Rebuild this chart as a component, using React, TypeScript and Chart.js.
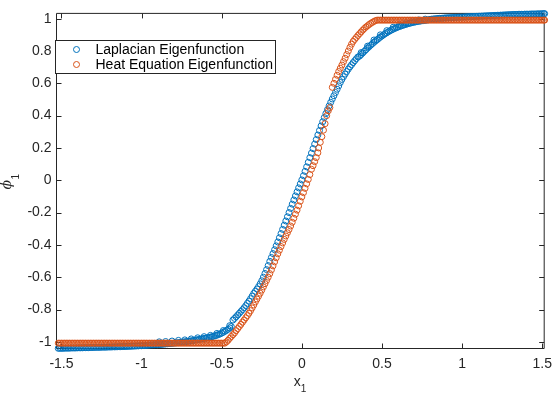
import React, { useEffect, useRef } from 'react';
import { Chart, registerables } from 'chart.js';

Chart.register(...registerables);

const seriesNames = ['Laplacian Eigenfunction', 'Heat Equation Eigenfunction'];
const seriesColors = ['#0072BD', '#D95319'];

const xTicks = [-1.5, -1, -0.5, 0, 0.5, 1, 1.5];
const xTickLabels = ['-1.5', '-1', '-0.5', '0', '0.5', '1', '1.5'];
const yTicks = [-1, -0.8, -0.6, -0.4, -0.2, 0, 0.2, 0.4, 0.6, 0.8, 1];
const yTickLabels = ['-1', '-0.8', '-0.6', '-0.4', '-0.2', '0', '0.2', '0.4', '0.6', '0.8', '1'];
const xLimits = [-1.5309, 1.5123];
const yLimits = [-1.0412, 1.0326];

// ---- Laplacian eigenfunction (blue) ----
const lapTailLeft: [number, number][] = [
  [-1.52, -1.04], [-1.51, -1.04], [-1.5, -1.04], [-1.49, -1.04], [-1.48, -1.039], [-1.47, -1.039],
  [-1.46, -1.039], [-1.45, -1.039], [-1.44, -1.038], [-1.43, -1.038], [-1.42, -1.038], [-1.41, -1.038],
  [-1.4, -1.037], [-1.39, -1.037], [-1.38, -1.037], [-1.37, -1.037], [-1.36, -1.036], [-1.35, -1.036],
  [-1.34, -1.036], [-1.33, -1.036], [-1.32, -1.035], [-1.31, -1.035], [-1.3, -1.035], [-1.29, -1.034],
  [-1.28, -1.034], [-1.27, -1.034], [-1.26, -1.034], [-1.25, -1.033], [-1.24, -1.033], [-1.23, -1.033],
  [-1.22, -1.033], [-1.21, -1.032], [-1.2, -1.032], [-1.19, -1.032], [-1.18, -1.031], [-1.17, -1.031],
  [-1.16, -1.031], [-1.15, -1.03], [-1.14, -1.03], [-1.13, -1.03], [-1.12, -1.029], [-1.11, -1.029],
  [-1.1, -1.029], [-1.09, -1.028], [-1.08, -1.028], [-1.07, -1.027], [-1.06, -1.027], [-1.05, -1.026],
  [-1.04, -1.026], [-1.03, -1.025], [-1.02, -1.025], [-1.01, -1.024], [-1.0, -1.024], [-0.99, -1.023],
  [-0.98, -1.023], [-0.97, -1.022], [-0.96, -1.021], [-0.95, -1.02], [-0.94, -1.019], [-0.93, -1.019],
  [-0.92, -1.018], [-0.91, -1.018],
];
const lapKneeLowRowA: [number, number][] = [
  [-0.9, -1.018], [-0.89, -1.017], [-0.88, -1.016], [-0.87, -1.015], [-0.86, -1.014], [-0.85, -1.013],
  [-0.84, -1.012], [-0.83, -1.011], [-0.82, -1.01], [-0.81, -1.009], [-0.8, -1.008], [-0.79, -1.007],
  [-0.78, -1.006], [-0.77, -1.005], [-0.76, -1.004], [-0.75, -1.003], [-0.74, -1.001], [-0.73, -1.0],
  [-0.72, -0.998], [-0.71, -0.997], [-0.7, -0.995], [-0.69, -0.994], [-0.68, -0.992], [-0.67, -0.99],
  [-0.66, -0.988], [-0.65, -0.987], [-0.64, -0.985], [-0.63, -0.983], [-0.62, -0.981], [-0.61, -0.979],
  [-0.6, -0.977], [-0.59, -0.975], [-0.58, -0.973], [-0.57, -0.971], [-0.56, -0.968], [-0.55, -0.965],
  [-0.54, -0.962], [-0.53, -0.959], [-0.52, -0.955], [-0.51, -0.951], [-0.5, -0.946], [-0.49, -0.941],
  [-0.48, -0.935], [-0.47, -0.929], [-0.46, -0.922], [-0.45, -0.914], [-0.44, -0.905],
];
const lapKneeLowRowB: [number, number][] = [
  [-0.89, -1.0], [-0.85, -0.998], [-0.81, -0.995], [-0.77, -0.991], [-0.73, -0.988], [-0.69, -0.982],
  [-0.65, -0.975], [-0.61, -0.968], [-0.57, -0.96], [-0.53, -0.948], [-0.49, -0.93], [-0.45, -0.9],
];
const lapMiddle: [number, number][] = [
  [-0.43, -0.865], [-0.42, -0.855], [-0.41, -0.845], [-0.4, -0.834], [-0.39, -0.823], [-0.38, -0.812],
  [-0.37, -0.801], [-0.36, -0.789], [-0.35, -0.776], [-0.34, -0.762], [-0.33, -0.748], [-0.32, -0.733],
  [-0.31, -0.717], [-0.3, -0.7], [-0.29, -0.687], [-0.28, -0.673], [-0.27, -0.658], [-0.26, -0.641],
  [-0.25, -0.622], [-0.24, -0.6], [-0.23, -0.577], [-0.22, -0.553], [-0.21, -0.528], [-0.2, -0.502],
  [-0.19, -0.478], [-0.18, -0.454], [-0.17, -0.43], [-0.16, -0.406], [-0.15, -0.382], [-0.14, -0.356],
  [-0.13, -0.33], [-0.12, -0.304], [-0.11, -0.278], [-0.1, -0.252], [-0.09, -0.226], [-0.08, -0.2],
  [-0.07, -0.174], [-0.06, -0.148], [-0.05, -0.122], [-0.04, -0.097], [-0.03, -0.072], [-0.02, -0.047],
  [-0.01, -0.023], [0.0, 0.002], [0.01, 0.028], [0.02, 0.055], [0.03, 0.083], [0.04, 0.111],
  [0.05, 0.14], [0.06, 0.168], [0.07, 0.196], [0.08, 0.224], [0.09, 0.252], [0.1, 0.28],
  [0.11, 0.308], [0.12, 0.336], [0.13, 0.362], [0.14, 0.388], [0.15, 0.413], [0.16, 0.437],
  [0.17, 0.46], [0.18, 0.482], [0.19, 0.503], [0.2, 0.523], [0.21, 0.543], [0.22, 0.563],
  [0.23, 0.584], [0.24, 0.605], [0.25, 0.624], [0.26, 0.641], [0.27, 0.657], [0.28, 0.673],
  [0.29, 0.688], [0.3, 0.702], [0.31, 0.715], [0.32, 0.728], [0.33, 0.74], [0.34, 0.752], [0.35, 0.763],
];
const lapKneeHighRowA: [number, number][] = [
  [0.36, 0.768], [0.37, 0.778], [0.38, 0.788], [0.39, 0.798], [0.4, 0.808], [0.41, 0.818],
  [0.42, 0.827], [0.43, 0.836], [0.44, 0.845], [0.45, 0.854], [0.46, 0.862], [0.47, 0.87],
  [0.48, 0.878], [0.49, 0.886], [0.5, 0.893], [0.51, 0.9], [0.52, 0.907], [0.53, 0.913],
  [0.54, 0.919], [0.55, 0.925], [0.56, 0.93], [0.57, 0.935], [0.58, 0.94], [0.59, 0.944],
  [0.6, 0.948], [0.61, 0.952], [0.62, 0.955], [0.63, 0.959], [0.64, 0.962], [0.65, 0.965],
  [0.66, 0.968], [0.67, 0.971], [0.68, 0.973], [0.69, 0.976], [0.7, 0.978], [0.71, 0.98],
  [0.72, 0.982], [0.73, 0.984], [0.74, 0.985], [0.75, 0.987], [0.76, 0.988], [0.77, 0.99],
  [0.78, 0.991], [0.79, 0.993],
];
const lapKneeHighRowB: [number, number][] = [
  [0.37, 0.79], [0.41, 0.83], [0.45, 0.868], [0.49, 0.9], [0.53, 0.926], [0.57, 0.947],
  [0.61, 0.963], [0.65, 0.975], [0.69, 0.985], [0.73, 0.992], [0.77, 0.997],
];
const lapTailRight: [number, number][] = [
  [0.8, 0.996], [0.81, 0.997], [0.82, 0.998], [0.83, 0.999], [0.84, 1.0], [0.85, 1.001],
  [0.86, 1.002], [0.87, 1.002], [0.88, 1.003], [0.89, 1.004], [0.9, 1.005], [0.91, 1.005],
  [0.92, 1.006], [0.93, 1.006], [0.94, 1.007], [0.95, 1.007], [0.96, 1.008], [0.97, 1.008],
  [0.98, 1.009], [0.99, 1.009], [1.0, 1.01], [1.01, 1.01], [1.02, 1.011], [1.03, 1.011],
  [1.04, 1.012], [1.05, 1.012], [1.06, 1.013], [1.07, 1.013], [1.08, 1.014], [1.09, 1.014],
  [1.1, 1.015], [1.11, 1.015], [1.12, 1.016], [1.13, 1.016], [1.14, 1.017], [1.15, 1.017],
  [1.16, 1.018], [1.17, 1.018], [1.18, 1.019], [1.19, 1.019], [1.2, 1.02], [1.21, 1.02],
  [1.22, 1.021], [1.23, 1.021], [1.24, 1.022], [1.25, 1.022], [1.26, 1.023], [1.27, 1.023],
  [1.28, 1.024], [1.29, 1.024], [1.3, 1.025], [1.31, 1.025], [1.32, 1.026], [1.33, 1.026],
  [1.34, 1.026], [1.35, 1.027], [1.36, 1.027], [1.37, 1.027], [1.38, 1.027], [1.39, 1.028],
  [1.4, 1.028], [1.41, 1.028], [1.42, 1.028], [1.43, 1.029], [1.44, 1.029], [1.45, 1.029],
  [1.46, 1.029], [1.47, 1.03], [1.48, 1.03], [1.49, 1.03], [1.5, 1.031], [1.51, 1.031], [1.515, 1.031],
];

// ---- Heat equation eigenfunction (orange) ----
const heatLowLevel = -1.008;
const heatLowX = [
  -1.52, -1.51, -1.5, -1.49, -1.48, -1.47, -1.46, -1.45, -1.44, -1.43, -1.42, -1.41, -1.4, -1.39, -1.38,
  -1.37, -1.36, -1.35, -1.34, -1.33, -1.32, -1.31, -1.3, -1.29, -1.28, -1.27, -1.26, -1.25, -1.24, -1.23,
  -1.22, -1.21, -1.2, -1.19, -1.18, -1.17, -1.16, -1.15, -1.14, -1.13, -1.12, -1.11, -1.1, -1.09, -1.08,
  -1.07, -1.06, -1.05, -1.04, -1.03, -1.02, -1.01, -1.0, -0.99, -0.98, -0.97, -0.96, -0.95, -0.94, -0.93,
  -0.92, -0.91, -0.9, -0.89, -0.88, -0.87, -0.86, -0.85, -0.84, -0.83, -0.82, -0.81, -0.8, -0.79, -0.78,
  -0.77, -0.76, -0.75, -0.74, -0.73, -0.72, -0.71, -0.7, -0.69, -0.68, -0.67, -0.66, -0.65, -0.64, -0.63,
  -0.62, -0.61, -0.6, -0.59, -0.58, -0.57, -0.56, -0.55, -0.54, -0.53, -0.52, -0.51, -0.5, -0.49, -0.48,
];
const heatRise: [number, number][] = [
  [-0.47, -1.0], [-0.46, -0.99], [-0.45, -0.978], [-0.44, -0.967], [-0.43, -0.956], [-0.42, -0.945],
  [-0.41, -0.931], [-0.4, -0.918], [-0.39, -0.905], [-0.38, -0.892], [-0.37, -0.878], [-0.36, -0.865],
  [-0.35, -0.851], [-0.34, -0.838], [-0.33, -0.823], [-0.32, -0.807], [-0.31, -0.79], [-0.3, -0.772],
  [-0.29, -0.753], [-0.28, -0.735], [-0.27, -0.717], [-0.26, -0.699], [-0.25, -0.68], [-0.24, -0.66],
  [-0.23, -0.64], [-0.22, -0.62], [-0.21, -0.6], [-0.2, -0.578], [-0.19, -0.555], [-0.18, -0.53],
  [-0.17, -0.505], [-0.16, -0.48], [-0.15, -0.455], [-0.14, -0.433], [-0.13, -0.41], [-0.12, -0.388],
  [-0.11, -0.366], [-0.1, -0.345], [-0.09, -0.325], [-0.08, -0.305], [-0.07, -0.283], [-0.06, -0.26],
  [-0.05, -0.235], [-0.04, -0.21], [-0.03, -0.185], [-0.02, -0.158], [-0.01, -0.13], [0.0, -0.103],
  [0.01, -0.077], [0.02, -0.05], [0.03, -0.022], [0.04, 0.005], [0.05, 0.035], [0.06, 0.068],
  [0.07, 0.09], [0.08, 0.115], [0.09, 0.14], [0.1, 0.17], [0.105, 0.2], [0.115, 0.235],
  [0.125, 0.27], [0.135, 0.31], [0.145, 0.35], [0.155, 0.4], [0.165, 0.43], [0.175, 0.45],
  [0.19, 0.575], [0.2, 0.6], [0.21, 0.625], [0.22, 0.65], [0.23, 0.673], [0.24, 0.693],
  [0.25, 0.713], [0.26, 0.734], [0.27, 0.755], [0.28, 0.778], [0.29, 0.8], [0.3, 0.822],
  [0.31, 0.842], [0.32, 0.859], [0.33, 0.872], [0.34, 0.884], [0.35, 0.896], [0.36, 0.907],
  [0.37, 0.918], [0.38, 0.929], [0.39, 0.939], [0.4, 0.948], [0.41, 0.956], [0.42, 0.964],
  [0.43, 0.971], [0.44, 0.977], [0.45, 0.983], [0.46, 0.988], [0.47, 0.991],
];
const heatHighLevel = 0.991;
const heatHighX = [
  0.48, 0.49, 0.5, 0.51, 0.52, 0.53, 0.54, 0.55, 0.56, 0.57, 0.58, 0.59, 0.6, 0.61, 0.62, 0.63, 0.64,
  0.65, 0.66, 0.67, 0.68, 0.69, 0.7, 0.71, 0.72, 0.73, 0.74, 0.75, 0.76, 0.77, 0.78, 0.79, 0.8, 0.81,
  0.82, 0.83, 0.84, 0.85, 0.86, 0.87, 0.88, 0.89, 0.9, 0.91, 0.92, 0.93, 0.94, 0.95, 0.96, 0.97, 0.98,
  0.99, 1.0, 1.01, 1.02, 1.03, 1.04, 1.05, 1.06, 1.07, 1.08, 1.09, 1.1, 1.11, 1.12, 1.13, 1.14, 1.15,
  1.16, 1.17, 1.18, 1.19, 1.2, 1.21, 1.22, 1.23, 1.24, 1.25, 1.26, 1.27, 1.28, 1.29, 1.3, 1.31, 1.32,
  1.33, 1.34, 1.35, 1.36, 1.37, 1.38, 1.39, 1.4, 1.41, 1.42, 1.43, 1.44, 1.45, 1.46, 1.47, 1.48, 1.49,
  1.5, 1.51, 1.515,
];

const FONT = '"Liberation Sans", Arial, Helvetica, sans-serif';
const AXIS_COLOR = '#262626';

const toPts = (arrs: [number, number][][]) => arrs.flat().map(([x, y]) => ({ x, y }));
const levelPts = (xs: number[], level: number): [number, number][] => xs.map((x) => [x, level]);

const framePlugin = {
  id: 'matlabFrame',
  beforeDatasetsDraw(chart: any) {
    const { ctx, chartArea: a, scales } = chart;
    ctx.save();
    ctx.strokeStyle = AXIS_COLOR;
    ctx.lineWidth = 1;
    ctx.beginPath();
    ctx.rect(a.left, a.top, a.right - a.left, a.bottom - a.top);
    const tl = 5;
    for (const v of xTicks) {
      const px = Math.round(scales.x.getPixelForValue(v)) + 0.5;
      ctx.moveTo(px, a.bottom); ctx.lineTo(px, a.bottom - tl);
      ctx.moveTo(px, a.top); ctx.lineTo(px, a.top + tl);
    }
    for (const v of yTicks) {
      const py = Math.round(scales.y.getPixelForValue(v)) + 0.5;
      ctx.moveTo(a.left, py); ctx.lineTo(a.left + tl, py);
      ctx.moveTo(a.right, py); ctx.lineTo(a.right - tl, py);
    }
    ctx.stroke();
    ctx.restore();
  },
  afterDraw(chart: any) {
    const { ctx, chartArea: a } = chart;
    ctx.save();
    ctx.fillStyle = AXIS_COLOR;
    ctx.textAlign = 'left';
    ctx.textBaseline = 'alphabetic';
    const cx = (a.left + a.right) / 2;
    ctx.font = `14px ${FONT}`;
    ctx.fillText('x', cx - 6.5, 386);
    const xw = ctx.measureText('x').width;
    ctx.font = `10px ${FONT}`;
    ctx.fillText('1', cx - 6.5 + xw, 391.5);

    ctx.save();
    ctx.translate(11, 189.5);
    ctx.rotate(-Math.PI / 2);
    ctx.font = `italic 14px "DejaVu Serif", serif`;
    ctx.fillText('ϕ', 0, 0);
    const pw = ctx.measureText('ϕ').width;
    ctx.font = `10px ${FONT}`;
    ctx.fillText('1', pw + 0.5, 7.5);
    ctx.restore();

    // legend
    ctx.fillStyle = '#ffffff';
    ctx.fillRect(55.5, 40.5, 220, 33);
    ctx.strokeStyle = AXIS_COLOR;
    ctx.lineWidth = 1;
    ctx.strokeRect(55.5, 40.5, 220, 33);
    const rows = [49.5, 64.5];
    chart.data.datasets.forEach((ds: any, i: number) => {
      ctx.beginPath();
      ctx.strokeStyle = ds.borderColor;
      ctx.lineWidth = 1;
      ctx.arc(76.5, rows[i], 3, 0, Math.PI * 2);
      ctx.stroke();
      ctx.fillStyle = '#000000';
      ctx.font = `14px ${FONT}`;
      ctx.fillText(ds.label, 95.5, rows[i] + 4.5);
    });
    ctx.restore();
  },
};

export default function App() {
  const ref = useRef<HTMLCanvasElement | null>(null);
  useEffect(() => {
    if (!ref.current) return;
    const chart = new Chart(ref.current, {
      type: 'scatter',
      data: {
        datasets: [
          {
            label: seriesNames[0],
            data: toPts([lapTailLeft, lapKneeLowRowA, lapKneeLowRowB, lapMiddle, lapKneeHighRowA, lapKneeHighRowB, lapTailRight]),
            borderColor: seriesColors[0],
            backgroundColor: 'rgba(0,0,0,0)',
            pointRadius: 3,
            pointBorderWidth: 1,
            clip: false as any,
            order: 2,
          },
          {
            label: seriesNames[1],
            data: toPts([levelPts(heatLowX, heatLowLevel), heatRise, levelPts(heatHighX, heatHighLevel)]),
            borderColor: seriesColors[1],
            backgroundColor: 'rgba(0,0,0,0)',
            pointRadius: 3,
            pointBorderWidth: 1,
            clip: false as any,
            order: 1,
          },
        ],
      },
      options: {
        animation: false,
        responsive: false,
        devicePixelRatio: 1,
        events: [],
        layout: { padding: { left: 0, top: 11.5, right: 9.5, bottom: 0 } },
        plugins: { legend: { display: false }, tooltip: { enabled: false } },
        scales: {
          x: {
            type: 'linear',
            min: xLimits[0],
            max: xLimits[1],
            grid: { display: false, drawTicks: false },
            border: { display: false },
            afterFit: (s: any) => { s.height = 46.5; },
            afterBuildTicks: (s: any) => { s.ticks = xTicks.map((v) => ({ value: v })); },
            ticks: {
              autoSkip: false,
              maxRotation: 0,
              padding: 7,
              color: AXIS_COLOR,
              font: { family: FONT, size: 14 },
              callback: (_v: any, i: number) => xTickLabels[i],
            },
          },
          y: {
            type: 'linear',
            min: yLimits[0],
            max: yLimits[1],
            grid: { display: false, drawTicks: false },
            border: { display: false },
            afterFit: (s: any) => { s.width = 56.5; },
            afterBuildTicks: (s: any) => { s.ticks = yTicks.map((v) => ({ value: v })); },
            ticks: {
              autoSkip: false,
              padding: 5,
              color: AXIS_COLOR,
              font: { family: FONT, size: 14 },
              callback: (_v: any, i: number) => yTickLabels[i],
            },
          },
        },
      },
      plugins: [framePlugin],
    });
    return () => chart.destroy();
  }, []);
  return (
    <div style={{ position: 'absolute', left: 0, top: 0, width: 559, height: 395, background: '#fff' }}>
      <canvas ref={ref} width={559} height={395} />
    </div>
  );
}
